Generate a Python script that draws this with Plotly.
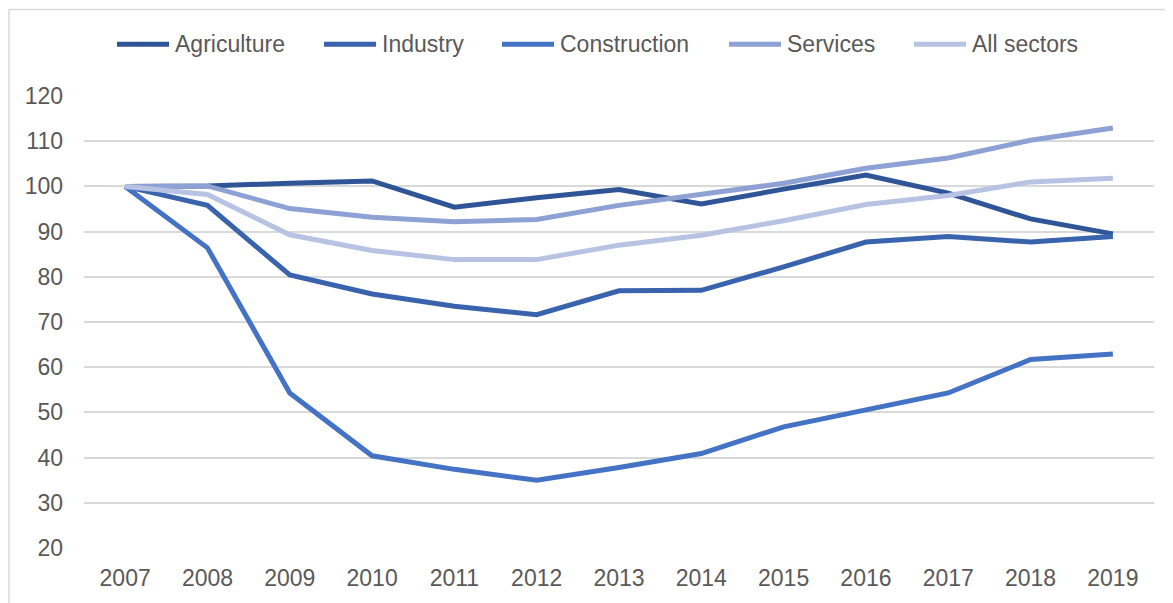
import plotly.graph_objects as go

# Index, 2007 = 100
years = [2007, 2008, 2009, 2010, 2011, 2012, 2013, 2014, 2015, 2016, 2017, 2018, 2019]
agriculture = [100, 100.1, 100.7, 101.2, 95.4, 97.5, 99.3, 96.1, 99.4, 102.5, 98.5, 92.8, 89.5]
industry = [100, 95.8, 80.4, 76.2, 73.5, 71.6, 76.9, 77.0, 82.2, 87.7, 88.9, 87.7, 88.9]
construction = [100, 86.4, 54.3, 40.4, 37.4, 35.0, 37.8, 40.9, 46.8, 50.6, 54.3, 61.7, 62.9]
services = [100, 100.1, 95.1, 93.2, 92.2, 92.7, 95.8, 98.3, 100.7, 104.0, 106.3, 110.2, 112.9]
all_sectors = [100, 98.2, 89.3, 85.8, 83.8, 83.8, 87.0, 89.2, 92.4, 96.0, 98.0, 101.0, 101.8]

series_names = ["Agriculture", "Industry", "Construction", "Services", "All sectors"]
series_values = [agriculture, industry, construction, services, all_sectors]
series_colors = ["#2F5597", "#3A63AD", "#4472C4", "#8EA1D5", "#B8C2E3"]

# the page body adds an 8px margin, so the figure is a little smaller than the window
OFF = 8
W, H = 1173 - OFF, 603 - OFF
M = dict(l=84 - OFF, r=19, t=96 - OFF, b=53)
FONT = "Liberation Sans, Arial, sans-serif"
TEXT = "#595959"

fig = go.Figure()
for name, vals, col in zip(series_names, series_values, series_colors):
    fig.add_trace(go.Scatter(
        x=years, y=vals, name=name, mode="lines",
        line=dict(color=col, width=5), showlegend=False,
    ))

# hand-drawn legend so the key lines match the long Excel swatches
plot_w = W - M["l"] - M["r"]
plot_h = H - M["t"] - M["b"]
legend_x = [115, 322, 500, 727, 912]   # page-pixel start of each key line
legend_y = 44
to_px = lambda px: (px - OFF - M["l"]) / plot_w
to_py = lambda py: (H - M["b"] - (py - OFF)) / plot_h

shapes = []
annotations = []
for name, col, x0 in zip(series_names, series_colors, legend_x):
    shapes.append(dict(type="line", xref="paper", yref="paper",
                       x0=to_px(x0 + 2), x1=to_px(x0 + 54),
                       y0=to_py(legend_y), y1=to_py(legend_y),
                       line=dict(color=col, width=5)))
    annotations.append(dict(text=name, xref="paper", yref="paper",
                            x=to_px(x0 + 58), y=to_py(legend_y),
                            xanchor="left", yanchor="middle", showarrow=False,
                            font=dict(size=23, color=TEXT, family=FONT)))

# chart border
shapes.append(dict(type="rect", xref="paper", yref="paper",
                   x0=to_px(OFF + 1), x1=to_px(1200), y0=to_py(OFF + 1), y1=to_py(640),
                   line=dict(color="#D9D9D9", width=1.5), layer="below"))

fig.update_layout(
    width=W, height=H, margin=M,
    paper_bgcolor="white", plot_bgcolor="white",
    font=dict(family=FONT, size=23, color=TEXT),
    shapes=shapes, annotations=annotations,
    xaxis=dict(range=[2006.5, 2019.5], tickmode="linear", dtick=1,
               showgrid=False, zeroline=False, showline=False,
               ticks="", ticklabelstandoff=14),
    yaxis=dict(range=[20, 120], tickmode="linear", dtick=10,
               showgrid=True, gridcolor="#D9D9D9", gridwidth=1.5,
               zeroline=False, showline=False, ticks="", ticklabelstandoff=20),
)

fig.write_html("out.html")
